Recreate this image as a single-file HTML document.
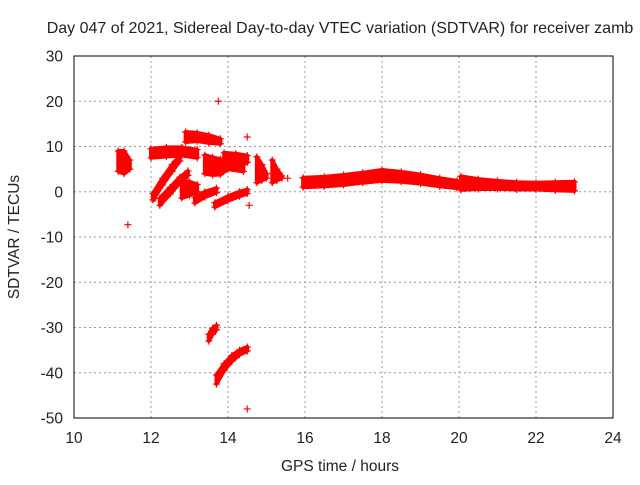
<!DOCTYPE html>
<html><head><meta charset="utf-8"><style>
body{margin:0;background:#fff}
svg text{font-family:"Liberation Sans",sans-serif;font-size:15.5px;fill:#222}
</style></head><body>
<svg id="chart" width="640" height="480" xmlns="http://www.w3.org/2000/svg">
<text x="340" y="33" text-anchor="middle" style="font-size:16px">Day 047 of 2021, Sidereal Day-to-day VTEC variation (SDTVAR) for receiver zamb</text>
<text x="340" y="471" text-anchor="middle">GPS time / hours</text>
<text x="19" y="237" text-anchor="middle" transform="rotate(-90 19 237)">SDTVAR / TECUs</text>
<g id="grid"></g><g id="ticks"></g><g id="marks"></g>
<rect x="74" y="56" width="539" height="362" fill="none" stroke="#000" stroke-width="1"/>
</svg>
<script>
const xTicks=[10,12,14,16,18,20,22,24];
const yTicks=[30,20,10,0,-10,-20,-30,-40,-50];
// bands: x values, lower and upper SDTVAR
const bandNames=['b1','b2','b3','b4','b5','b6','b7','b8','b9','b10','b11','b12','b13','b14','b15','b16'];
const bandX=[
[11.15,11.3,11.45],
[12.0,12.4,12.8,13.2],
[12.9,13.2,13.5,13.8],
[13.4,13.6,13.8,14.0,14.4],
[13.9,14.2,14.5],
[12.05,12.3,12.55,12.75],
[12.23,12.5,12.75,12.96],
[12.8,13.0,13.2],
[13.14,13.4,13.7],
[13.66,14.0,14.3,14.5],
[14.75,14.88,15.0],
[15.15,15.27,15.4],
[15.95,16.5,17,17.5,18,18.5,19,19.5,19.95],
[20.05,20.5,21,21.5,22,22.5,23.0],
[13.5,13.6,13.7],
[13.7,13.9,14.1,14.3,14.5]];
const bandLo=[
[4.5,4,5],[7.5,7.8,8,7.5],[11,11.2,10.8,10.6],[4,3.7,3.8,5,4.5],[7,6.7,6.5],
[-1.8,1.5,4.5,6.8],[-3,-0.5,2,3.6],[-1.4,-0.8,0],[-2.5,-1.2,-0.2],[-3.4,-2,-1,-0.4],
[2,2.5,3],[2,2.5,3],[1.0,1.2,1.5,2.0,2.4,2.2,1.8,1.2,0.8],[0.4,0.6,0.6,0.5,0.5,0.3,0.2],
[-33,-31.5,-30.5],[-42.5,-39.5,-37.5,-36,-35.2]];
const bandHi=[
[9,9,7],[9.5,9.8,9.8,9.3],[13.2,13,12.5,11.7],[8.1,7.6,7.2,6.6,6],[8.6,8.4,8],
[-0.4,3,6,8.1],[-1.4,1,3.2,4.6],[2.6,2.2,1.6],[-1.2,0,0.8],[-2.4,-1,0,0.5],
[7.7,6,4],[7,5,3.5],[3.1,3.3,3.7,4.2,4.8,4.4,3.8,3.0,2.4],[3.4,2.8,2.4,2.1,2.0,2.1,2.2],
[-31.5,-30.2,-29.5],[-40.5,-38,-36.2,-35,-34.3]];
const pointsX=[11.4,13.75,14.5,14.5,15.55,12.1,14.55];
const pointsY=[-7.3,20,12.1,-48,3,-1.5,-3];
const X0=74,X1=613,Y0=418,Y1=56;
const xs=v=>X0+(v-10)/14*(X1-X0);
const ys=v=>Y0-(v+50)/80*(Y0-Y1);
const NS='http://www.w3.org/2000/svg';
const mk=(t,a,p)=>{const e=document.createElementNS(NS,t);for(const k in a)e.setAttribute(k,a[k]);p.appendChild(e);return e;};
const grid=document.getElementById('grid'),ticks=document.getElementById('ticks'),marks=document.getElementById('marks');
xTicks.forEach(t=>{const x=xs(t);
 if(t>10&&t<24){const l=mk('line',{x1:x,x2:x,y1:Y1,y2:Y0,stroke:'#999','stroke-dasharray':'2,3'},grid);
 
 }
 const tx=mk('text',{x:x,y:443,'text-anchor':'middle'},ticks);tx.textContent=t;
 
 });
yTicks.forEach(t=>{const y=ys(t);
 if(t>-50&&t<30){const l=mk('line',{x1:X0,x2:X1,y1:y,y2:y,stroke:'#999','stroke-dasharray':'2,3'},grid);
 
 }
 const tx=mk('text',{x:63,y:y+5.5,'text-anchor':'end'},ticks);tx.textContent=t;
 
 });
function plus(x,y,name){const p=mk('path',{d:`M${x-3.5},${y}h7M${x},${y-3.5}v7`,stroke:'#f00','stroke-width':1.2},marks);
 
 }
bandX.forEach((bx,i)=>{
 let d='';bx.forEach((v,j)=>{d+=(j?'L':'M')+xs(v)+','+ys(bandHi[i][j]);});
 for(let j=bx.length-1;j>=0;j--)d+='L'+xs(bx[j])+','+ys(bandLo[i][j]);
 const pg=mk('path',{d:d+'Z',fill:'#f00',stroke:'#f00','stroke-width':4,'stroke-linejoin':'round'},marks);
 
 
 bx.forEach((v,j)=>{plus(xs(v),ys(bandHi[i][j]),'sdtvar-point');plus(xs(v),ys(bandLo[i][j]),'sdtvar-point');});
});
pointsX.forEach((v,i)=>plus(xs(v),ys(pointsY[i]),'sdtvar-point'));
</script>
</body></html>
